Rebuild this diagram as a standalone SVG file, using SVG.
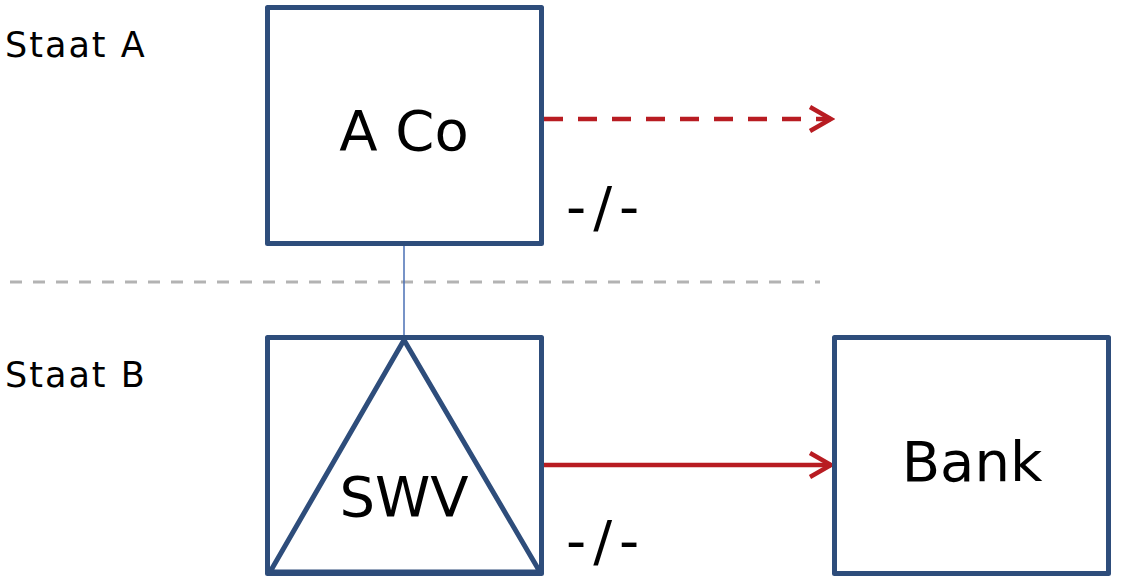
<svg xmlns="http://www.w3.org/2000/svg" width="1122" height="584" viewBox="0 0 1122 584">
<style>
.box{fill:#fff;stroke:#2e4d7b;stroke-width:5;stroke-linejoin:round}
.lbl{font-family:"DejaVu Sans",Verdana,sans-serif;fill:#000}
.big{font-size:56px;text-anchor:middle}
.state{font-size:35px;letter-spacing:2px}
.sign{font-size:56px;letter-spacing:7px}
.red{stroke:#b81c22;stroke-width:4.5;fill:none}
</style>
<defs>
<marker id="chev2" markerWidth="30" markerHeight="30" refX="26" refY="15" orient="auto" markerUnits="userSpaceOnUse" viewBox="0 0 30 30">
<path d="M5,3 L26,15 L5,27" fill="none" stroke="#b81c22" stroke-width="4.5"/>
</marker>
</defs>
<rect width="1122" height="584" fill="#fff"/>
<g id="states">
<text class="lbl state" x="5" y="57">Staat A</text>
<text class="lbl state" x="5" y="387">Staat B</text>
<line x1="10" y1="282" x2="820" y2="282" stroke="#b3b3b3" stroke-width="3" stroke-dasharray="12,11"/>
</g>
<g id="connectors">
<line x1="404" y1="244" x2="404" y2="340" stroke="#4a6fb5" stroke-width="1.5"/>
<line class="red" x1="544" y1="119" x2="831" y2="119" stroke-dasharray="19,15" marker-end="url(#chev2)"/>
<line class="red" x1="544" y1="465" x2="831" y2="465" marker-end="url(#chev2)"/>
<text class="lbl sign" x="566" y="226">-/-</text>
<text class="lbl sign" x="566" y="560">-/-</text>
</g>
<g id="aco">
<rect class="box" x="267.5" y="7.5" width="274" height="236"/>
<text class="lbl big" x="404" y="150">A Co</text>
</g>
<g id="swv">
<rect class="box" x="267.5" y="337.5" width="274" height="236"/>
<polygon points="404,340 270,572 540,572" fill="none" stroke="#2e4d7b" stroke-width="5" stroke-linejoin="round"/>
<text class="lbl big" x="404" y="516">SWV</text>
</g>
<g id="bank">
<rect class="box" x="834.5" y="337.5" width="274" height="236"/>
<text class="lbl big" x="972" y="481">Bank</text>
</g>
</svg>
